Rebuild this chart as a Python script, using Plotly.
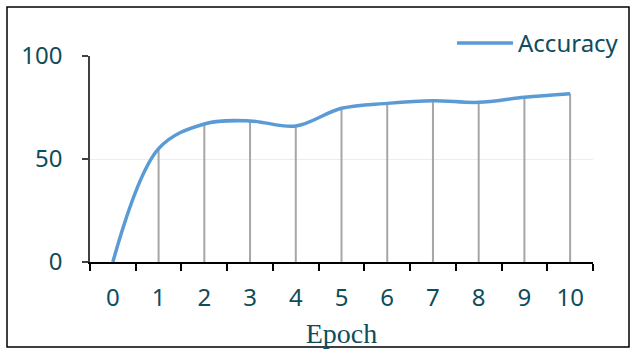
import plotly.graph_objects as go

epochs = ["0", "1", "2", "3", "4", "5", "6", "7", "8", "9", "10"]
accuracy = [0, 55, 67, 68.5, 66, 74.6, 77, 78.3, 77.5, 80, 81.7]
y_ticks = [0, 50, 100]

W, H = 632, 349
ml, mr, mt, mb = 90, 39, 56, 87
pw, ph = W - ml - mr, H - mt - mb

text_color = "#0e4d5c"
tick_font = dict(family="Noto Sans", size=24, color=text_color)

fig = go.Figure()

# drop lines (behind the series)
fig.add_trace(go.Scatter(
    x=epochs, y=accuracy, mode="markers",
    marker=dict(size=1, color="rgba(0,0,0,0)"),
    error_y=dict(type="data", symmetric=False,
                 array=[0] * len(accuracy), arrayminus=accuracy,
                 width=0, thickness=2, color="#a6a6a6"),
    showlegend=False, hoverinfo="skip"))

fig.add_trace(go.Scatter(
    x=epochs, y=accuracy, mode="lines", name="Accuracy",
    line=dict(color="#5b9bd5", width=3.5, shape="spline", smoothing=1.0)))

fig.update_layout(
    width=W, height=H,
    margin=dict(l=ml, r=mr, t=mt, b=mb, autoexpand=False),
    paper_bgcolor="white", plot_bgcolor="white",
    font=tick_font,
    legend=dict(x=(452 - ml) / pw, y=(H - mb - 21) / ph, xanchor="left", yanchor="top",
                font=dict(family="Noto Sans", size=24, color=text_color),
                itemwidth=56, bgcolor="rgba(0,0,0,0)"),
    xaxis=dict(type="category", categoryorder="array", categoryarray=epochs,
               range=[-0.5, 10.5], tickson="boundaries", tickangle=0,
               ticks="outside", ticklen=7, tickwidth=2, tickcolor="black",
               showline=True, linecolor="black", linewidth=2,
               showgrid=False, ticklabelstandoff=13, automargin=False,
               tickfont=tick_font,
               title=dict(text="Epoch", standoff=12,
                          font=dict(family="Liberation Serif", size=28, color=text_color))),
    yaxis=dict(range=[0, 100], tickvals=y_ticks,
               ticks="outside", ticklen=6, tickwidth=1.5, tickcolor="#404040",
               showline=True, linecolor="#404040", linewidth=1.5,
               showgrid=True, gridcolor="#ececec", gridwidth=1,
               zeroline=False, ticklabelstandoff=15, automargin=False,
               tickfont=tick_font),
)

# chart border
fig.add_shape(type="rect", xref="paper", yref="paper",
              x0=(7 - ml) / pw, x1=(629 - ml) / pw,
              y0=(H - mb - 347) / ph, y1=(H - mb - 7) / ph,
              line=dict(color="black", width=1.5), layer="below")

fig.write_html("out.html", config={"displayModeBar": False},
               post_script="document.body.style.margin='0';")
